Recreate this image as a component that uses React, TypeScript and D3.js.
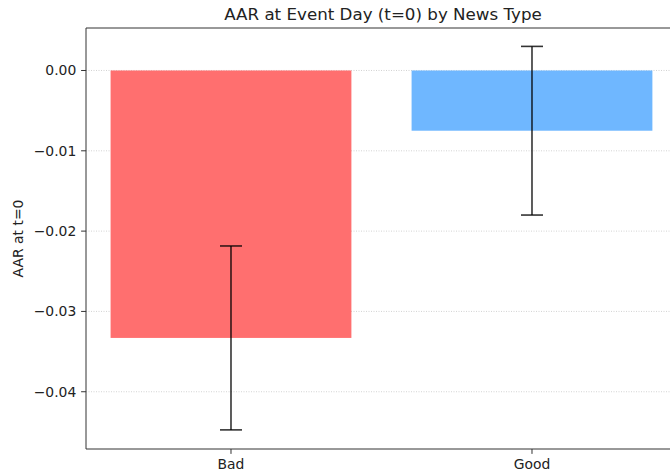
import React from "react";
import * as d3 from "d3";

const categories = ["Bad", "Good"];
const values = [-0.0333, -0.0075];
const errors = [0.01145, 0.0105];
const colors = ["#ff6f6f", "#6fb7ff"];
const yTicks = [0.0, -0.01, -0.02, -0.03, -0.04];

export default function App() {
  const W = 670, H = 474;
  const left = 86, top = 28, bottom = 449;
  const x = d3.scaleLinear().domain([-0.4817, 0.5183]).range([left, left + 301]);
  const y = d3.scaleLinear().domain([0.00529, -0.04713]).range([top, bottom]);
  const right = x(1.49);
  const bw = x(0.4) - x(-0.4);
  const font = "DejaVu Sans, sans-serif";
  const fs = 13.9;
  return (
    <svg width={W} height={H} style={{ position: "absolute", left: 0, top: 0 }}>
      <rect width={W} height={H} fill="white" />
      {yTicks.map((t) => (
        <line key={"g" + t} x1={left} x2={right} y1={y(t)} y2={y(t)} stroke="#b0b0b0" strokeOpacity={0.7} strokeWidth={0.8} strokeDasharray="1,1.5" />
      ))}
      {categories.map((c, i) => (
        <rect key={c} x={x(i) - bw / 2} y={y(0)} width={bw} height={y(values[i]) - y(0)} fill={colors[i]} />
      ))}
      {categories.map((c, i) => (
        <g key={"e" + c} stroke="#000" strokeOpacity={0.8} strokeWidth={1.6}>
          <line x1={x(i)} x2={x(i)} y1={y(values[i] + errors[i])} y2={y(values[i] - errors[i])} />
          <line x1={x(i) - 11} x2={x(i) + 11} y1={y(values[i] + errors[i])} y2={y(values[i] + errors[i])} />
          <line x1={x(i) - 11} x2={x(i) + 11} y1={y(values[i] - errors[i])} y2={y(values[i] - errors[i])} />
        </g>
      ))}
      <g stroke="#333" strokeWidth={1}>
        <line x1={left} x2={right} y1={top} y2={top} />
        <line x1={left} x2={right} y1={bottom} y2={bottom} />
        <line x1={left} x2={left} y1={top} y2={bottom} />
        <line x1={right} x2={right} y1={top} y2={bottom} />
      </g>
      {yTicks.map((t) => (
        <g key={"t" + t}>
          <line x1={left - 4.9} x2={left} y1={y(t)} y2={y(t)} stroke="#333" />
          <text x={left - 9.7} y={y(t)} dy="0.35em" textAnchor="end" fontSize={fs} fontFamily={font} fill="#222">
            {d3.format(".2f")(t).replace("-", "\u2212")}
          </text>
        </g>
      ))}
      {categories.map((c, i) => (
        <g key={"x" + c}>
          <line x1={x(i)} x2={x(i)} y1={bottom} y2={bottom + 4.9} stroke="#333" />
          <text x={x(i)} y={bottom + 20} textAnchor="middle" fontSize={fs} fontFamily={font} fill="#222">{c}</text>
        </g>
      ))}
      <text x={18} y={(top + bottom) / 2} transform={`rotate(-90 18 ${(top + bottom) / 2})`} textAnchor="middle" dy="0.35em" fontSize={fs} fontFamily={font} fill="#222">AAR at t=0</text>
      <text x={383} y={19.5} textAnchor="middle" fontSize={16.7} fontFamily={font} fill="#222">AAR at Event Day (t=0) by News Type</text>
    </svg>
  );
}
